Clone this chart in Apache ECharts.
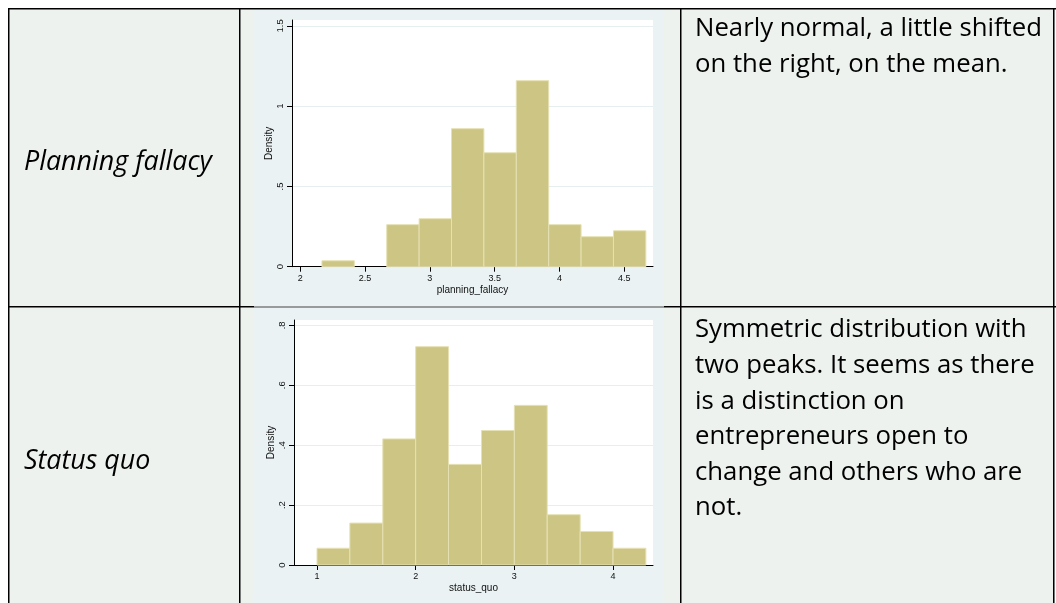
<!DOCTYPE html>
<html><head><meta charset="utf-8">
<script src="https://cdn.jsdelivr.net/npm/echarts@6/dist/echarts.min.js"></script>
<style>html,body{margin:0;padding:0;background:#fff;}#c{width:1056px;height:603px;}</style>
</head><body><div id="c"></div>
<script>
// ---------- data ----------
const rowLabels = ['Planning fallacy', 'Status quo'];
const notesRow1 = ['Nearly normal, a little shifted', 'on the right, on the mean.'];
const notesRow2 = ['Symmetric distribution with', 'two peaks. It seems as there', 'is a distinction on',
                   'entrepreneurs open to', 'change and others who are', 'not.'];

const pfEdges   = [2.167, 2.417, 2.667, 2.917, 3.167, 3.417, 3.667, 3.917, 4.167, 4.417, 4.667];
const pfDensity = [0.037, 0, 0.262, 0.299, 0.86, 0.71, 1.159, 0.262, 0.187, 0.224];
const pfXTicks  = [2, 2.5, 3, 3.5, 4, 4.5];
const pfXLabels = ['2', '2.5', '3', '3.5', '4', '4.5'];
const pfYTicks  = [0, 0.5, 1, 1.5];
const pfYLabels = ['0', '.5', '1', '1.5'];
const pfXTitle  = 'planning_fallacy';

const sqEdges   = [1, 1.333, 1.667, 2, 2.333, 2.667, 3, 3.333, 3.667, 4, 4.333];
const sqDensity = [0.056, 0.14, 0.421, 0.729, 0.336, 0.449, 0.533, 0.168, 0.112, 0.056];
const sqXTicks  = [1, 2, 3, 4];
const sqXLabels = ['1', '2', '3', '4'];
const sqYTicks  = [0, 0.2, 0.4, 0.6, 0.8];
const sqYLabels = ['0', '.2', '.4', '.6', '.8'];
const sqXTitle  = 'status_quo';
const yTitle    = 'Density';

// ---------- styling ----------
const BAR_FILL = '#CCC584';
const BAR_EDGE = '#E6E1B4';
const GRAPH_BG = '#EAF2F3';
const CELL_BG  = '#EDF2EF';
const AX_FONT  = '"Liberation Sans", Arial, sans-serif';
const TXT_FONT = '"Open Sans", sans-serif';

function fitSize(text, style, target) {
  const ctx = document.createElement('canvas').getContext('2d');
  ctx.font = style + ' 100px ' + TXT_FONT;
  return 100 * target / ctx.measureText(text).width;
}
const noteSize  = fitSize(notesRow1[0], 'normal', 347);
const labelSize = fitSize(rowLabels[0], 'italic', 188);

function lookup(ticks, labels) {
  return v => { const i = ticks.findIndex(t => Math.abs(t - v) < 1e-9); return i < 0 ? '' : labels[i]; };
}
function bins(edges, dens) {
  return dens.map((d, i) => [edges[i], edges[i + 1], d]);
}
function renderHist(params, api) {
  const d = api.value(2);
  if (!(d > 0)) return null;
  const p0 = api.coord([api.value(0), d]);
  const p1 = api.coord([api.value(1), 0]);
  return { type: 'rect',
    shape: { x: p0[0], y: p0[1], width: p1[0] - p0[0], height: p1[1] - p0[1] },
    style: { fill: BAR_FILL, stroke: BAR_EDGE, lineWidth: 1 } };
}
function xAxis(gi, min, max, ticks, labels, title) {
  return { type: 'value', gridIndex: gi, min: min, max: max,
    axisLine: { onZero: false, lineStyle: { color: '#000', width: 1 } },
    axisTick: { customValues: ticks, length: 5, lineStyle: { color: '#000' } },
    axisLabel: { customValues: ticks, formatter: lookup(ticks, labels), fontSize: 9, color: '#111',
                 fontFamily: AX_FONT, margin: 7 },
    splitLine: { show: false },
    name: title, nameLocation: 'middle', nameGap: 18.5,
    nameTextStyle: { fontSize: 10, color: '#111', fontFamily: AX_FONT } };
}
function yAxis(gi, max, ticks, labels) {
  return { type: 'value', gridIndex: gi, min: 0, max: max,
    axisLine: { show: true, onZero: false, lineStyle: { color: '#000', width: 1 } },
    axisTick: { show: true, customValues: ticks, length: 5, lineStyle: { color: '#000' } },
    axisLabel: { customValues: ticks, formatter: lookup(ticks, labels), fontSize: 9.5, color: '#111',
                 fontFamily: AX_FONT, rotate: 90, margin: 7 },
    splitLine: { show: true, lineStyle: { color: '#E6EEF0', width: 1 } },
    name: yTitle, nameLocation: 'middle', nameRotate: 90, nameGap: 14,
    nameTextStyle: { fontSize: 10, color: '#111', fontFamily: AX_FONT } };
}

const graphics = [
  { type: 'rect', z: -10, shape: { x: 8, y: 8, width: 1047, height: 600 }, style: { fill: CELL_BG } },
  { type: 'rect', z: -9, shape: { x: 253, y: 10, width: 411, height: 296 }, style: { fill: GRAPH_BG } },
  { type: 'rect', z: -9, shape: { x: 253, y: 308, width: 411, height: 300 }, style: { fill: GRAPH_BG } }
];
const lines = [[8, 8.75, 1056, 8.75], [8.75, 8, 8.75, 603], [239.75, 8, 239.75, 603], [680.75, 8, 680.75, 603],
               [1053.75, 8, 1053.75, 603], [8, 306.75, 254, 306.75], [664, 306.75, 1056, 306.75]];
lines.forEach(l => graphics.push({ type: 'line', z: 50,
  shape: { x1: l[0], y1: l[1], x2: l[2], y2: l[3] }, style: { stroke: '#000', lineWidth: 1.5 } }));
graphics.push({ type: 'line', z: 50, shape: { x1: 254, y1: 307, x2: 664, y2: 307 },
  style: { stroke: '#444', lineWidth: 1 } });
function addText(t, x, y, size, style) {
  graphics.push({ type: 'text', z: 50, x: x, y: y,
    style: { text: t, font: style + ' ' + size.toFixed(2) + 'px ' + TXT_FONT, fill: '#000',
             textAlign: 'left', textVerticalAlign: 'middle', verticalAlign: 'middle' } });
}
addText(rowLabels[0], 24, 162, labelSize, 'italic');
addText(rowLabels[1], 24, 461, labelSize, 'italic');
notesRow1.forEach((t, i) => addText(t, 695, 29 + i * 36, noteSize, 'normal'));
notesRow2.forEach((t, i) => addText(t, 695, 330 + i * 35.6, noteSize, 'normal'));

const chart = echarts.init(document.getElementById('c'), null, { renderer: 'canvas' });
chart.setOption({
  animation: false,
  graphic: { elements: graphics },
  grid: [
    { left: 292, top: 20, width: 361, height: 246.7, show: true, backgroundColor: '#fff', borderWidth: 0 },
    { left: 294, top: 320, width: 359, height: 245, show: true, backgroundColor: '#fff', borderWidth: 0 }
  ],
  xAxis: [xAxis(0, 1.936, 4.722, pfXTicks, pfXLabels, pfXTitle), xAxis(1, 0.767, 4.405, sqXTicks, sqXLabels, sqXTitle)],
  yAxis: [yAxis(0, 1.537, pfYTicks, pfYLabels), yAxis(1, 0.818, sqYTicks, sqYLabels)],
  series: [
    { type: 'custom', xAxisIndex: 0, yAxisIndex: 0, renderItem: renderHist,
      encode: { x: [0, 1], y: 2 }, data: bins(pfEdges, pfDensity) },
    { type: 'custom', xAxisIndex: 1, yAxisIndex: 1, renderItem: renderHist,
      encode: { x: [0, 1], y: 2 }, data: bins(sqEdges, sqDensity) }
  ]
});
</script></body></html>
